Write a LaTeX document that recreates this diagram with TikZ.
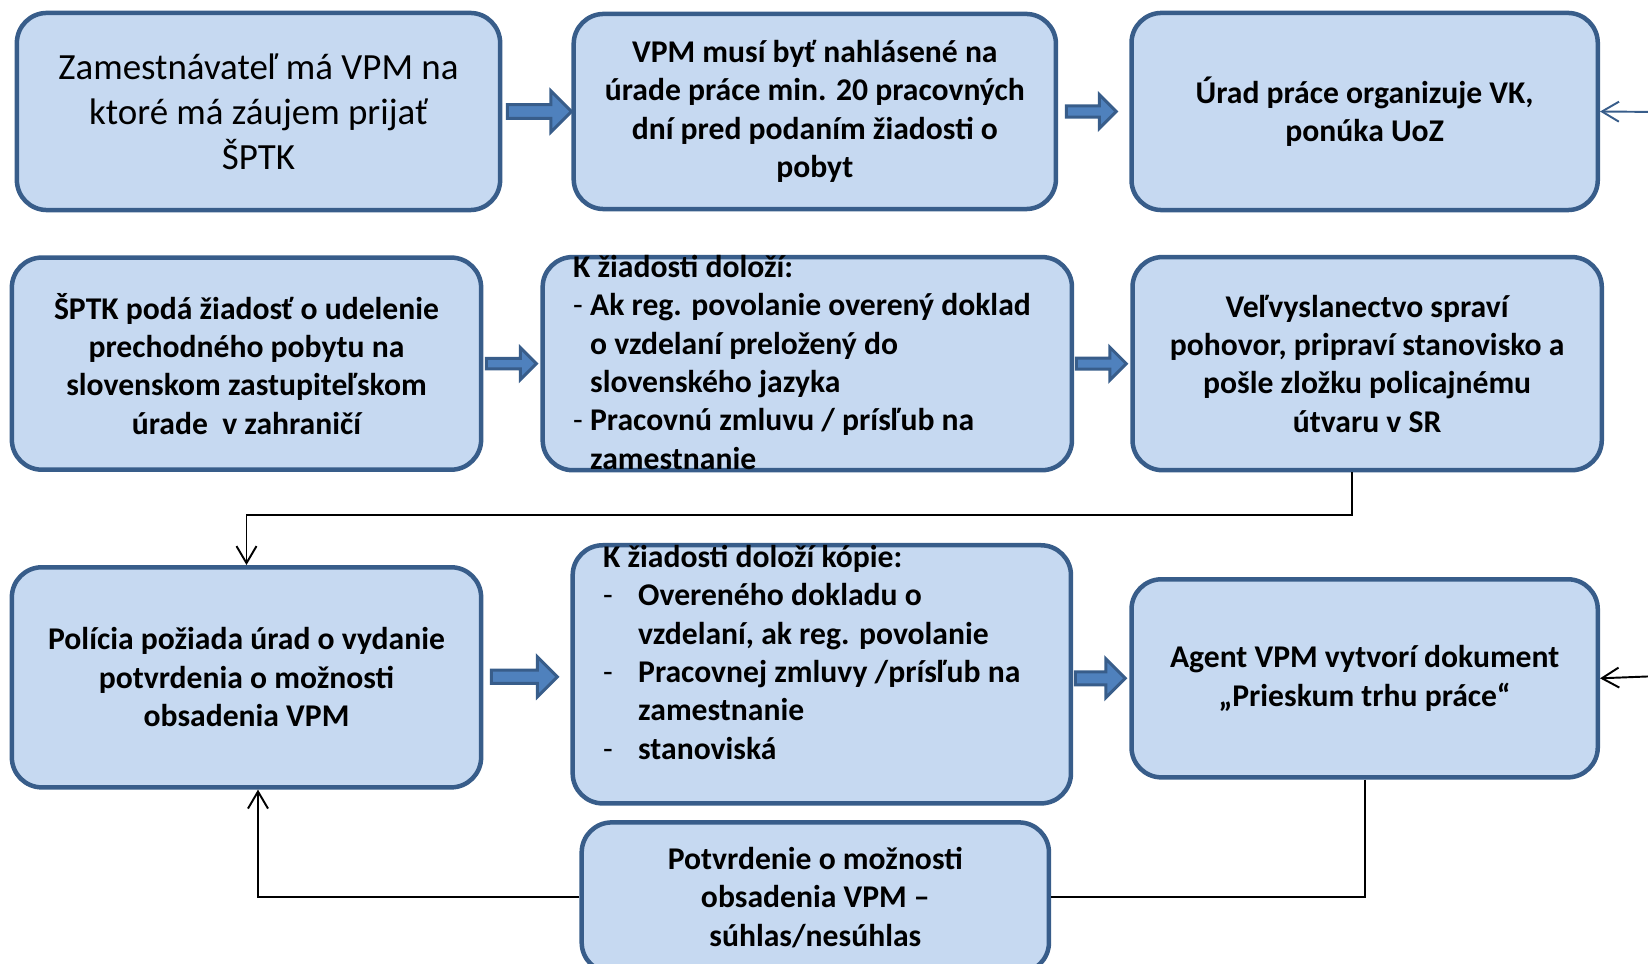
\documentclass[tikz,border=0pt]{standalone}
\usepackage{fontspec}
\setmainfont{Carlito}
\usepackage{tikz}
\usetikzlibrary{shapes,arrows,positioning}
\usetikzlibrary{arrows.meta}
\definecolor{boxfill}{HTML}{C6D9F1}
\definecolor{boxline}{HTML}{385D8A}
\definecolor{arrowfill}{HTML}{4F81BD}
% fat arrow: tip, length, head width
\newcommand{\fatarrow}[3]{\draw[block arrow] (#1) -- ++({-#3/2},{-#3/2}) -- ++(0,{#3/3}) -- ++({-#2+#3/2},0) -- ++(0,{#3/3}) -- ++({#2-#3/2},0) -- ++(0,{#3/3}) -- cycle;}

\begin{document}
\begin{tikzpicture}[x=0.01cm,y=-0.01cm,>={Straight Barb[length=0.17cm,width=0.2cm]},
	main node/.style={draw=boxline, line width=0.045cm, fill=boxfill, rounded corners=0.3cm, inner sep=0pt, align=center, font=\bfseries\fontsize{9pt}{10.9pt}\selectfont},
	list text/.style={inner sep=0pt, anchor=west, font=\bfseries\fontsize{9pt}{10.9pt}\selectfont},
	block arrow/.style={draw=boxline, line width=0.03cm, fill=arrowfill, line join=miter},
	link/.style={line width=0.55pt}]
			\useasboundingbox (0,0) rectangle (1648,964);
			
			\node[main node, minimum width=4.83cm, minimum height=1.97cm, font=\fontsize{10.5pt}{12.8pt}\selectfont] (1) at (258.5,111.5) {Zamestnávateľ má VPM na\\ktoré má záujem prijať\\ŠPTK};
			\node[main node, minimum width=4.82cm, minimum height=1.95cm] (2) [right=0.69cm of 1] {VPM musí byť nahlásené na\\úrade práce min. 20 pracovných\\dní pred podaním žiadosti o\\pobyt};
			\node[main node, minimum width=4.66cm, minimum height=1.97cm] (3) [right=0.71cm of 2] {Úrad práce organizuje VK,\\ponúka UoZ};
			
			\node[main node, minimum width=4.69cm, minimum height=2.12cm] (4) [below=0.43cm of 1, xshift=-0.12cm] {ŠPTK podá žiadosť o udelenie\\prechodného pobytu na\\slovenskom zastupiteľskom\\úrade \ v zahraničí};
			\node[main node, minimum width=5.29cm, minimum height=2.13cm] (5) [right=0.57cm of 4] {};
			\node[main node, minimum width=4.69cm, minimum height=2.13cm] (6) [right=0.56cm of 5] {Veľvyslanectvo spraví\\pohovor, pripraví stanovisko a\\pošle zložku policajnému\\útvaru v SR};
			
			\node[main node, minimum width=4.69cm, minimum height=2.20cm] (7) [below=0.93cm of 4] {Polícia požiada úrad o vydanie\\potvrdenia o možnosti\\obsadenia VPM};
			\node[main node, minimum width=4.98cm, minimum height=2.58cm] (8) [right=0.87cm of 7, yshift=0.03cm] {};
			\node[main node, minimum width=4.66cm, minimum height=1.98cm] (9) [right=0.56cm of 8, yshift=-0.04cm] {Agent VPM vytvorí dokument\\„Prieskum trhu práce“};
			\node[main node, minimum width=4.67cm, minimum height=1.50cm] (10) [below=0.145cm of 8, xshift=-0.065cm] {Potvrdenie o možnosti\\obsadenia VPM –\\súhlas/nesúhlas};
			
			% lists that run over their boxes
			\node[list text] (5t) at ([xshift=0.32cm, yshift=-0.02cm]5.west) {\begin{tabular}{@{}p{0.17cm}@{}l@{}}
				\multicolumn{2}{@{}l@{}}{K žiadosti doloží:}\\
				\textmd{-} & Ak reg. povolanie overený doklad\\
				& o vzdelaní preložený do\\
				& slovenského jazyka\\
				\textmd{-} & Pracovnú zmluvu / prísľub na\\
				& zamestnanie
			\end{tabular}};
			\node[list text] (8t) at ([xshift=0.32cm, yshift=0.185cm]8.west) {\begin{tabular}{@{}p{0.35cm}@{}l@{}}
				\multicolumn{2}{@{}l@{}}{K žiadosti doloží kópie:}\\
				\textmd{-} & Overeného dokladu o\\
				& vzdelaní, ak reg. povolanie\\
				\textmd{-} & Pracovnej zmluvy /prísľub na\\
				& zamestnanie\\
				\textmd{-} & stanoviská
			\end{tabular}};
			
			% block arrows between the boxes
			\fatarrow{2.west}{64}{41}
			\fatarrow{[xshift=-0.13cm]3.west}{50}{34}
			\fatarrow{[xshift=-0.04cm]5.west}{50}{32}
			\fatarrow{[xshift=-0.04cm]6.west}{50}{33}
			\fatarrow{[xshift=-0.13cm, yshift=-0.025cm]8.west}{66}{40}
			\fatarrow{[xshift=-0.04cm]9.west}{50}{39}
			
			\coordinate (r1) at (1660,112);
			\coordinate (r2) at (1660,676);
			
			\draw[link, ->, boxline] (r1) -- (3.east);
			\draw[link, ->] (r2) -- (9.east);
			\draw[link, ->] ([xshift=-0.155cm]6.south) -- ++(0,43) -| (7.north);
			\draw[link] (9.south) |- (10.east);
			\draw[link, ->] (10.west) -| ([xshift=0.115cm]7.south);
			
\end{tikzpicture}
\end{document}
